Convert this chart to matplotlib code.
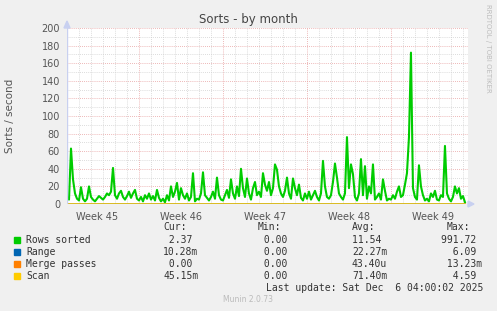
import matplotlib
matplotlib.use('Agg')
import matplotlib.pyplot as plt
import numpy as np

# sorts per second, one value every 4 hours (6 per day)
rows_sorted = [
    8, 5, 63, 28, 12, 6,
    4, 19, 6, 3, 6, 20,
    8, 5, 3, 6, 9, 7,
    5, 8, 12, 10, 14, 41,
    10, 6, 12, 15, 8, 5,
    9, 14, 7, 12, 16, 6,
    4, 8, 3, 10, 6, 12,
    5, 9, 4, 16, 7, 3,
    6, 2, 10, 4, 20, 8,
    14, 24, 5, 18, 10, 6,
    12, 4, 8, 35, 3, 6,
    5, 12, 36, 10, 7, 4,
    8, 14, 6, 30, 10, 5,
    4, 10, 16, 7, 28, 12,
    6, 20, 9, 40, 18, 8,
    29, 12, 5, 18, 25, 10,
    14, 8, 35, 22, 15, 25,
    10, 18, 45, 39, 20, 12,
    8, 15, 30, 12, 6, 29,
    18, 10, 22, 7, 4, 12,
    6, 14, 5, 10, 15, 8,
    4, 12, 49, 20, 8, 6,
    10, 25, 46, 30, 12, 8,
    5, 12, 76, 18, 45, 34,
    8, 4, 12, 51, 10, 43,
    6, 20, 12, 45, 5, 8,
    12, 5, 28, 15, 4, 6,
    5, 10, 6, 14, 20, 8,
    10, 22, 35, 76, 172, 18,
    8, 5, 44, 20, 10, 4,
    6, 3, 12, 8, 15, 5,
    4, 10, 8, 66, 12, 6,
    3, 8, 20, 12, 18, 6,
    9, 2,
]
# the other series are tiny (milli / micro), one value per week
range_vals = [0.02, 0.01, 0.03, 0.02, 0.02, 0.01]
merge_vals = [0.0, 0.0, 0.0, 0.0, 0.0, 0.0]
scan_vals = [0.07, 0.05, 0.08, 0.06, 0.07, 0.05]

weeks = ["Week 45", "Week 46", "Week 47", "Week 48", "Week 49"]
week_centers = [2.5, 9.5, 16.5, 23.5, 30.5]
week_bounds = [6, 13, 20, 27]

legend_rows = [
    ("Rows sorted", "#00CC00", " 2.37 ", " 0.00 ", "11.54 ", "991.72 "),
    ("Range", "#0066B3", "10.28m", " 0.00 ", "22.27m", "  6.09 "),
    ("Merge passes", "#FF8000", " 0.00 ", " 0.00 ", "43.40u", " 13.23m"),
    ("Scan", "#FFCC00", "45.15m", " 0.00 ", "71.40m", "  4.59 "),
]

W, H = 497, 311
fig = plt.figure(figsize=(W / 100, H / 100), dpi=100, facecolor='#F0F0F0')

def fx(x):
    return x / W

def fy(y):
    return 1 - y / H

x0, x1, y0, y1 = 67, 468, 28, 204
ax = fig.add_axes([fx(x0), fy(y1), fx(x1) - fx(x0), fy(y0) - fy(y1)])
ax.set_facecolor('white')

days = np.arange(len(rows_sorted)) * 4 / 24.0
xmax = 33.42
ax.set_xlim(0, xmax)
ax.set_ylim(0, 200)

# grid
dot = (0, (1, 1.5))
for v in range(10, 201, 10):
    col = '#E8A0A0' if v % 20 == 0 else '#D0D0D0'
    ax.axhline(v, color=col, lw=0.6, ls=dot, zorder=1)
for d in range(1, 34):
    col = '#E8A0A0' if d in week_bounds else '#D0D0D0'
    ax.axvline(d, color=col, lw=0.6, ls=dot, zorder=1)

ax.plot(days, rows_sorted, color='#00CC00', lw=1.5, zorder=3)
wk_days = np.linspace(0, days[-1], len(range_vals))
ax.plot(wk_days, range_vals, color='#0066B3', lw=1.0, zorder=3)
ax.plot(wk_days, merge_vals, color='#FF8000', lw=1.0, zorder=3)
ax.plot(wk_days, scan_vals, color='#FFCC00', lw=1.0, zorder=3)

for s in ax.spines.values():
    s.set_visible(False)
ax.axvline(0, color='#C8D0F0', lw=1.0, zorder=4)
ax.axhline(0, color='#C8D0F0', lw=1.0, zorder=2)

ax.set_yticks(range(0, 201, 20))
ax.set_yticklabels([str(v) for v in range(0, 201, 20)])
ax.set_xticks(week_centers)
ax.set_xticklabels(weeks)
ax.tick_params(length=0, labelsize=7, colors='#555555', pad=6)
ax.tick_params(axis='y', pad=5)

# arrows at the axis ends
fig.patches.append(matplotlib.patches.Polygon(
    [(fx(64), fy(28)), (fx(70), fy(28)), (fx(67), fy(21))],
    closed=True, color='#C8D0F0', transform=fig.transFigure))
fig.patches.append(matplotlib.patches.Polygon(
    [(fx(468), fy(201)), (fx(468), fy(207)), (fx(474), fy(204))],
    closed=True, color='#C8D0F0', transform=fig.transFigure))

fig.text(fx(248), fy(20), "Sorts - by month", ha='center', va='center',
         fontsize=8.5, color='#444444')
fig.text(fx(10), fy(116), "Sorts / second", ha='center', va='center',
         rotation=90, fontsize=7.5, color='#555555')
fig.text(fx(488), fy(4), "RRDTOOL / TOBI OETIKER", ha='center', va='top',
         rotation=270, fontsize=5, color='#BDBDBD')

mono = dict(family='DejaVu Sans Mono', fontsize=7, color='#333333', va='center')
cols = [163, 258, 352, 447]
for cx, hdr in zip(cols, ["Cur:", "Min:", "Avg:", "Max:"]):
    fig.text(fx(cx), fy(227), hdr, ha='left', **mono)
for i, (name, color, cur, mn, avg, mx) in enumerate(legend_rows):
    yy = 240 + 12 * i
    fig.patches.append(matplotlib.patches.Rectangle(
        (fx(14), fy(yy + 3)), 6 / W, 6 / H, color=color,
        transform=fig.transFigure))
    fig.text(fx(26), fy(yy), name, ha='left', **mono)
    fig.text(fx(cols[0]), fy(yy), cur, ha='left', **mono)
    fig.text(fx(cols[1]), fy(yy), mn, ha='left', **mono)
    fig.text(fx(cols[2]), fy(yy), avg, ha='left', **mono)
    fig.text(fx(cols[3] - 6), fy(yy), mx, ha='left', **mono)
fig.text(fx(483), fy(288), "Last update: Sat Dec  6 04:00:02 2025", ha='right', **mono)
fig.text(fx(248), fy(300), "Munin 2.0.73", ha='center', va='center',
         fontsize=5.5, color='#BBBBBB')

fig.savefig('out.png', dpi=100, facecolor=fig.get_facecolor())
